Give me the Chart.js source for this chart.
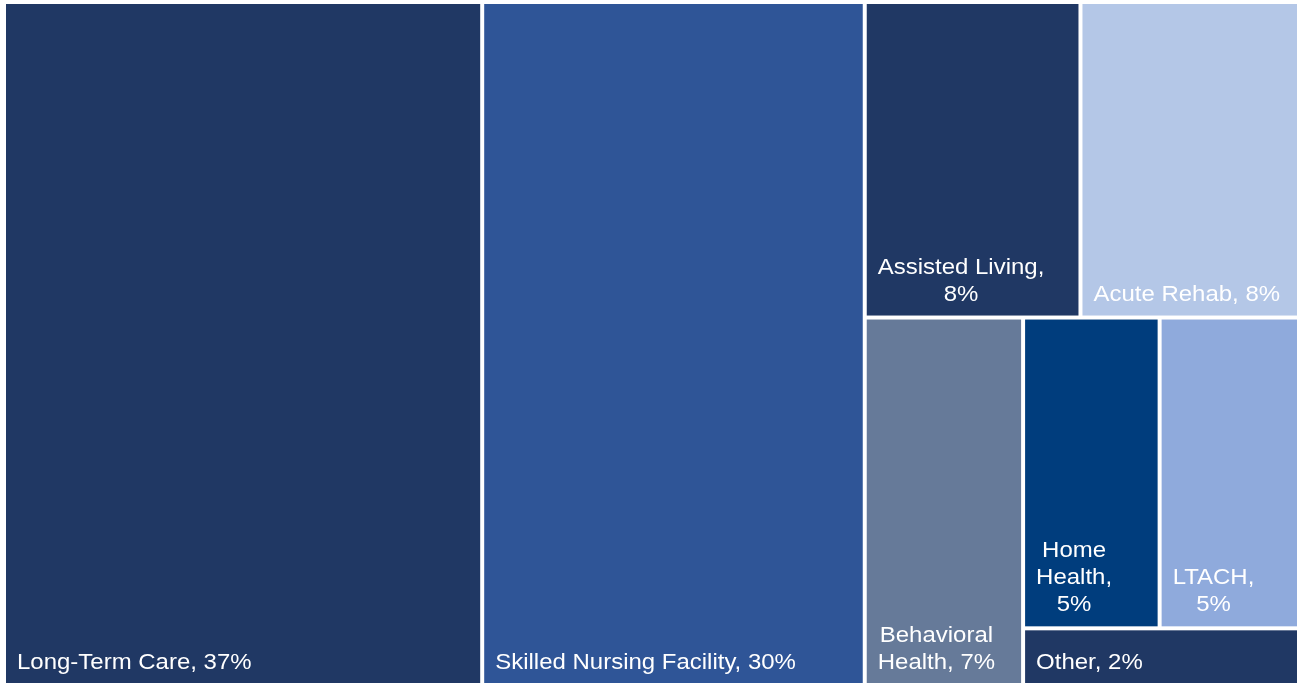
<!DOCTYPE html>
<html>
<head>
<meta charset="utf-8">
<script src="https://cdn.jsdelivr.net/npm/chart.js@4.4.0/dist/chart.umd.min.js"></script>
<style>
    html, body { margin: 0; padding: 0; background: #fff; overflow: hidden; }
    #chart { display: block; }
</style>
</head>
<body>
<canvas id="chart" width="1302" height="686"></canvas>
<script>
    'use strict';

    var categories = ['Long-Term Care', 'Skilled Nursing Facility', 'Assisted Living', 'Acute Rehab',
        'Behavioral Health', 'Home Health', 'LTACH', 'Other'];
    var shares = [37.0, 29.6, 7.7, 7.8, 6.6, 4.8, 4.9, 1.8];
    var colors = ['#203864', '#2f5597', '#203864', '#b4c7e7', '#667a99', '#003d7d', '#8faadc', '#203864'];

    // how the tiles nest: 'h' puts children side by side, 'v' stacks them
    var splitTree = ['h', 0, 1, ['v', ['h', 2, 3], ['h', 4, ['v', ['h', 5, 6], 7]]]];

    function total(node) {
        if (typeof node === 'number') {
            return shares[node];
        }
        return node.slice(1).reduce(function(s, n) { return s + total(n); }, 0);
    }

    // slice-and-dice in value space (0..100 on both axes)
    function layout(node, box, out) {
        if (typeof node === 'number') {
            out[node] = box;
            return out;
        }
        var horiz = node[0] === 'h';
        var sum = total(node);
        var pos = horiz ? box.x0 : box.y0;
        var len = horiz ? box.x1 - box.x0 : box.y1 - box.y0;
        node.slice(1).forEach(function(k) {
            var span = len * total(k) / sum;
            if (horiz) {
                layout(k, { x0: pos, x1: pos + span, y0: box.y0, y1: box.y1 }, out);
            } else {
                layout(k, { x0: box.x0, x1: box.x1, y0: pos, y1: pos + span }, out);
            }
            pos += span;
        });
        return out;
    }

    var tiles = layout(splitTree, { x0: 0, x1: 100, y0: 0, y1: 100 }, []);

    var STRETCH = 1.09;

    function wrap(ctx, text, maxW) {
        var words = text.split(' ');
        var lines = [];
        var cur = '';
        words.forEach(function(w) {
            var test = cur ? cur + ' ' + w : w;
            if (cur && ctx.measureText(test).width * STRETCH > maxW) {
                lines.push(cur);
                cur = w;
            } else {
                cur = test;
            }
        });
        if (cur) {
            lines.push(cur);
        }
        return lines;
    }

    var treemapPlugin = {
        id: 'treemapTiles',
        afterDatasetsDraw: function(chart) {
            var ctx = chart.ctx;
            var xs = chart.scales.x;
            var ys = chart.scales.y;
            ctx.save();
            tiles.forEach(function(t, i) {
                var left = xs.getPixelForValue(t.x0) + 2;
                var right = xs.getPixelForValue(t.x1) - 2;
                var top = ys.getPixelForValue(t.y0) + 2;
                var bottom = ys.getPixelForValue(t.y1) - 2;
                ctx.fillStyle = colors[i];
                ctx.fillRect(left, top, right - left, bottom - top);

                ctx.font = '22px "Liberation Sans", Arial, sans-serif';
                ctx.fillStyle = '#ffffff';
                ctx.textAlign = 'center';
                ctx.textBaseline = 'alphabetic';
                var label = categories[i] + ', ' + Math.round(shares[i]) + '%';
                var lines = wrap(ctx, label, right - left - 22);
                var blockW = Math.max.apply(null, lines.map(function(l) {
                    return ctx.measureText(l).width * STRETCH;
                }));
                var cx = left + 11 + blockW / 2;
                lines.forEach(function(l, j) {
                    var y = bottom - 15 - (lines.length - 1 - j) * 27;
                    ctx.save();
                    ctx.translate(cx, y);
                    ctx.scale(STRETCH, 1);
                    ctx.fillText(l, 0, 0);
                    ctx.restore();
                });
            });
            ctx.restore();
        }
    };

    new Chart(document.getElementById('chart'), {
        type: 'scatter',
        data: {
            datasets: [{
                data: tiles.map(function(t) {
                    return { x: (t.x0 + t.x1) / 2, y: (t.y0 + t.y1) / 2 };
                }),
                pointRadius: 0
            }]
        },
        options: {
            responsive: false,
            animation: false,
            layout: { padding: { left: 4, top: 2, right: 3, bottom: 0 } },
            plugins: {
                legend: { display: false },
                tooltip: { enabled: false }
            },
            scales: {
                x: { type: 'linear', min: 0, max: 100, display: false },
                y: { type: 'linear', min: 0, max: 100, reverse: true, display: false }
            }
        },
        plugins: [treemapPlugin]
    });
</script>
</body>
</html>
